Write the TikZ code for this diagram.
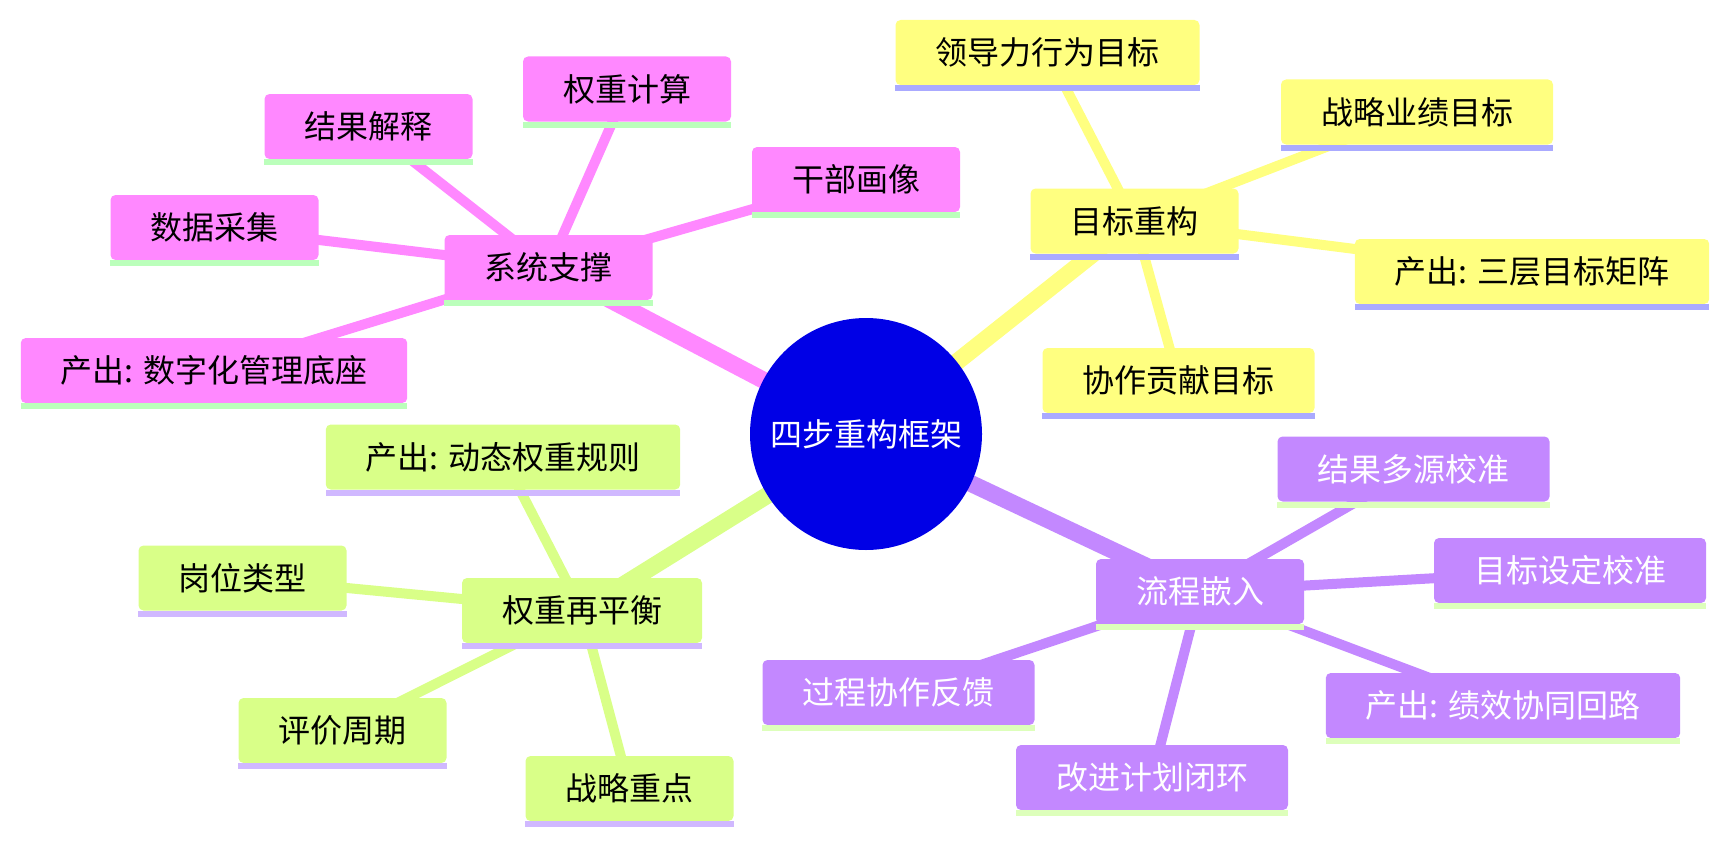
\documentclass[tikz,border=0pt]{standalone}
\usepackage{fontspec}
\setmainfont{Noto Sans CJK SC}
\usetikzlibrary{backgrounds}
\definecolor{rootblue}{HTML}{0000E6}
\definecolor{pinkfill}{HTML}{FF88FF}
\definecolor{pinkline}{HTML}{BBFFBB}
\definecolor{yelfill}{HTML}{FFFF80}
\definecolor{yelline}{HTML}{AAAAFF}
\definecolor{grnfill}{HTML}{D9FF88}
\definecolor{grnline}{HTML}{D0B8FF}
\definecolor{purfill}{HTML}{C388FF}
\definecolor{purline}{HTML}{DDFFBB}

\begin{document}
\begin{tikzpicture}[x=1pt, y=-1pt,
  box/.style={rectangle, rounded corners=5pt, minimum height=65pt,
    inner xsep=40pt, inner ysep=0pt, font=\fontsize{32}{38}\selectfont},
  pinkbox/.style={box, fill=pinkfill},
  yelbox/.style={box, fill=yelfill},
  grnbox/.style={box, fill=grnfill},
  purbox/.style={box, fill=purfill, text=white},
  trunk/.style={line width=17pt},
  twig/.style={line width=10pt}]
  \useasboundingbox (0,0) rectangle (1730,843);

  % root
  \node[circle, fill=rootblue, text=white, minimum size=232pt, inner sep=0pt,
    font=\fontsize{32}{38}\selectfont] (frame) at (866,434) {四步重构框架};

  % system support
  \node[pinkbox] (sys) at (548.5,267.5) {系统支撑};
  \node[pinkbox] (wcalc) at (627,89) {权重计算};
  \node[pinkbox] (explain) at (368.5,126.5) {结果解释};
  \node[pinkbox] (portrait) at (856,179.5) {干部画像};
  \node[pinkbox] (collect) at (214.5,227.5) {数据采集};
  \node[pinkbox] (base) at (214,370.5) {产出: 数字化管理底座};

  % goal rebuild
  \node[yelbox] (goal) at (1134.5,221) {目标重构};
  \node[yelbox] (lead) at (1047.5,52.5) {领导力行为目标};
  \node[yelbox] (perf) at (1417,112) {战略业绩目标};
  \node[yelbox] (matrix) at (1532,271.5) {产出: 三层目标矩阵};
  \node[yelbox] (coop) at (1178.5,380.5) {协作贡献目标};

  % weight rebalance
  \node[grnbox] (wgt) at (582,610.5) {权重再平衡};
  \node[grnbox] (rule) at (503,457) {产出: 动态权重规则};
  \node[grnbox] (post) at (242.5,578) {岗位类型};
  \node[grnbox] (cycle) at (342.5,730.5) {评价周期};
  \node[grnbox] (focus) at (629.5,788.5) {战略重点};

  % process embedding
  \node[purbox] (flow) at (1200,591.5) {流程嵌入};
  \node[purbox] (multi) at (1413.5,469) {结果多源校准};
  \node[purbox] (setcal) at (1570,570.5) {目标设定校准};
  \node[purbox] (feedback) at (898.5,692.5) {过程协作反馈};
  \node[purbox] (loop) at (1503,705.5) {产出: 绩效协同回路};
  \node[purbox] (plan) at (1152,777.5) {改进计划闭环};

  % underlines
  \foreach \n in {sys,wcalc,explain,portrait,collect,base}
    \fill[pinkline] (\n.south west) rectangle ([yshift=-6pt]\n.south east);
  \foreach \n in {goal,lead,perf,matrix,coop}
    \fill[yelline] (\n.south west) rectangle ([yshift=-6pt]\n.south east);
  \foreach \n in {wgt,rule,post,cycle,focus}
    \fill[grnline] (\n.south west) rectangle ([yshift=-6pt]\n.south east);
  \foreach \n in {flow,multi,setcal,feedback,loop,plan}
    \fill[purline] (\n.south west) rectangle ([yshift=-6pt]\n.south east);

  % branches
  \begin{scope}[on background layer]
    \draw[trunk, pinkfill] (frame.center) -- (sys.center);
    \draw[trunk, yelfill] (frame.center) -- (goal.center);
    \draw[trunk, grnfill] (frame.center) -- (wgt.center);
    \draw[trunk, purfill] (frame.center) -- (flow.center);
    \foreach \n in {wcalc,explain,portrait,collect,base}
      \draw[twig, pinkfill] (sys.center) -- (\n.center);
    \foreach \n in {lead,perf,matrix,coop}
      \draw[twig, yelfill] (goal.center) -- (\n.center);
    \foreach \n in {rule,post,cycle,focus}
      \draw[twig, grnfill] (wgt.center) -- (\n.center);
    \foreach \n in {multi,setcal,feedback,loop,plan}
      \draw[twig, purfill] (flow.center) -- (\n.center);
  \end{scope}
\end{tikzpicture}
\end{document}
